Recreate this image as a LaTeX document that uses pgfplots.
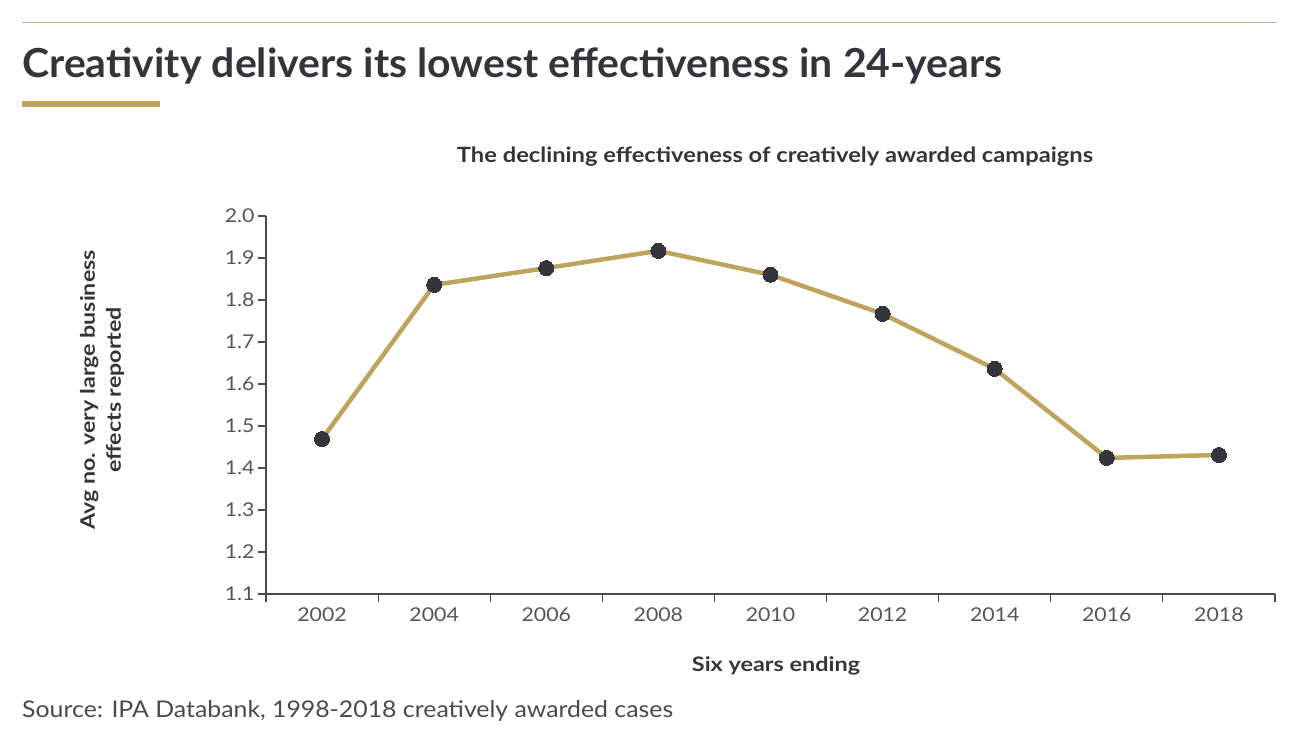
\documentclass[border=0pt]{standalone}
\usepackage{pgfplots}
\pgfplotsset{compat=1.18}
\usepackage{fontspec}
\setmainfont{Lato}
\definecolor{gold}{HTML}{BFA45E}
\definecolor{rule}{HTML}{C2B08A}
\definecolor{dark}{HTML}{35343D}
\definecolor{grey}{HTML}{4A4A4A}
\definecolor{tgrey}{HTML}{555555}
\begin{document}
\begin{tikzpicture}[x=1pt,y=1pt]
\useasboundingbox (0,0) rectangle (1293,741);
\draw[color=rule, line width=1pt] (22,718) -- (1276,718);
\node[anchor=base west, inner sep=0, text=dark, font=\fontsize{40}{44}\selectfont\bfseries\addfontfeature{FakeStretch=1.025}] at (22,663) {Creativity delivers its lowest effectiveness in 24-years};
\fill[gold] (22,634) rectangle (160,640);
\node[anchor=base, inner sep=0, text=dark, font=\fontsize{21}{24}\selectfont\bfseries\addfontfeature{FakeStretch=1.13}] at (775,578) {The declining effectiveness of creatively awarded campaigns};
\begin{axis}[
  at={(266pt,147pt)}, anchor=south west,
  scale only axis, width=1009pt, height=378pt,
  xmin=-0.5, xmax=8.5, ymin=1.1, ymax=2.0,
  axis lines*=left,
  axis line style={draw=grey, line width=1.2pt},
  xtick={0,...,8},
  xticklabels={2002,2004,2006,2008,2010,2012,2014,2016,2018},
  major x tick style={draw=none},
  minor xtick={-0.5,0.5,...,8.5},
  minor tick length=8pt,
  minor tick style={draw=grey, line width=1.2pt},
  ytick={1.1,1.2,...,2.0},
  major tick length=8pt,
  y tick style={draw=grey, line width=1.2pt},
  tick align=outside,
  yticklabel style={/pgf/number format/.cd, fixed, fixed zerofill, precision=1, assume math mode=true},
  ticklabel style={font=\fontsize{19}{21}\selectfont\addfontfeature{FakeStretch=1.12}, text=tgrey},
  xticklabel style={yshift=-2pt},
  clip=false,
]
\addplot[color=gold, line width=4.5pt, mark=*, mark size=7.5pt, mark options={fill=dark, draw=dark, line width=0pt}]
coordinates {(0,1.469) (1,1.836) (2,1.876) (3,1.917) (4,1.860) (5,1.767) (6,1.636) (7,1.424) (8,1.431)};
\end{axis}
\node[anchor=center, inner sep=0, rotate=90, align=center, text=dark, font=\fontsize{20}{26}\selectfont\bfseries\addfontfeature{FakeStretch=1.16}] at (102,351) {Avg no. very large business\\effects reported};
\node[anchor=base, inner sep=0, text=dark, font=\fontsize{20}{22}\selectfont\bfseries\addfontfeature{FakeStretch=1.17}] at (776,69) {Six years ending};
\node[anchor=base west, inner sep=0, text=grey, font=\fontsize{23}{26}\selectfont\addfontfeature{FakeStretch=1.08}] at (22,23) {Source: IPA Databank, 1998-2018 creatively awarded cases};
\end{tikzpicture}
\end{document}
